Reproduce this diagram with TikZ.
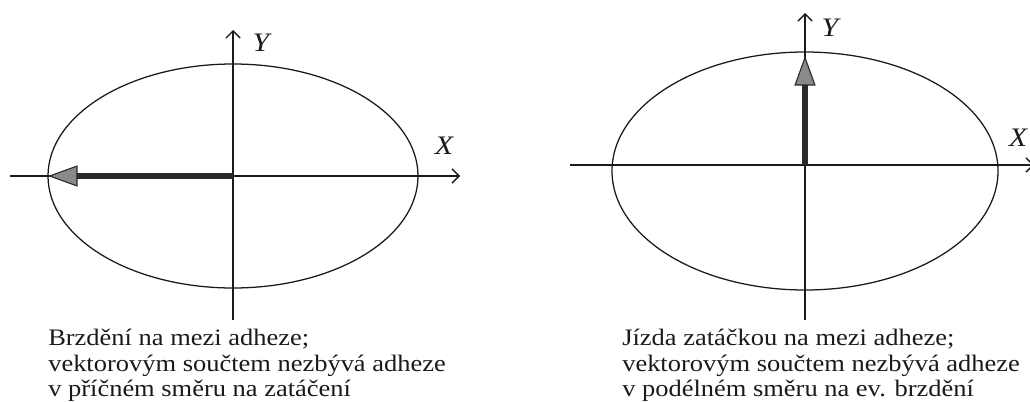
\documentclass[tikz,border=0pt]{standalone}
\usepackage{fontspec}
\setmainfont[FakeStretch=1.12]{Liberation Serif}
\usepackage{tikz}
\usetikzlibrary{arrows.meta}
\definecolor{inkblack}{HTML}{1A1A1A}
\definecolor{vectordark}{HTML}{2A2A2A}
\definecolor{vectorgray}{HTML}{8A8A8A}
\tikzstyle{axis} = [line width=0.8pt, color=inkblack, -{Straight Barb[length=5pt, width=10pt, line width=1pt]}]
\tikzstyle{circle line} = [line width=0.9pt, color=inkblack]
\tikzstyle{vector} = [line width=4pt, color=vectordark, -{Triangle[length=21pt, width=15pt, line width=0.8pt, fill=vectorgray]}]
\tikzstyle{axislabel} = [inner sep=0pt, font=\fontsize{19}{19}\selectfont\itshape, text=inkblack]
\tikzstyle{caption} = [anchor=north west, inner sep=0pt, align=left, font=\fontsize{16.8}{18}\selectfont, text=inkblack]

\begin{document}
\begin{tikzpicture}[x=0.025cm, y=-0.025cm]
    \useasboundingbox (0,0) rectangle (1030,401);

    % Left -- braking
    \coordinate (lO) at (233,176);
    \coordinate (lW) at (10,176);
    \coordinate (lE) at (460,176);
    \coordinate (lS) at (233,320);
    \coordinate (lN) at (233,30);
    \coordinate (lTip) at (48,176);
    \draw[circle line] (lO) ellipse [x radius=185, y radius=112];
    \draw[axis] (lW) -- (lE);
    \draw[axis] (lS) -- (lN);
    \node[axislabel] (lX) at (444,146) {X};
    \node[axislabel] (lY) at (261,43) {Y};
    \draw[vector] (lO) -- (lTip);
    \node[caption] (lText) at (48,329) {Brzdění na mezi adheze;\\vektorovým součtem nezbývá adheze\\v příčném směru na zatáčení};

    % Right -- cornering
    \coordinate (rO) at (805,165);
    \coordinate (rC) at (805,171);
    \coordinate (rW) at (570,165);
    \coordinate (rE) at (1034,165);
    \coordinate (rS) at (805,320);
    \coordinate (rN) at (805,13);
    \coordinate (rTip) at (805,56);
    \draw[circle line] (rC) ellipse [x radius=193, y radius=119];
    \draw[axis] (rW) -- (rE);
    \draw[axis] (rS) -- (rN);
    \node[axislabel] (rX) at (1018,138) {X};
    \node[axislabel] (rY) at (830,28) {Y};
    \draw[vector] (rO) -- (rTip);
    \node[caption] (rText) at (622,329) {Jízda zatáčkou na mezi adheze;\\vektorovým součtem nezbývá adheze\\v podélném směru na ev. brzdění};
\end{tikzpicture}
\end{document}
